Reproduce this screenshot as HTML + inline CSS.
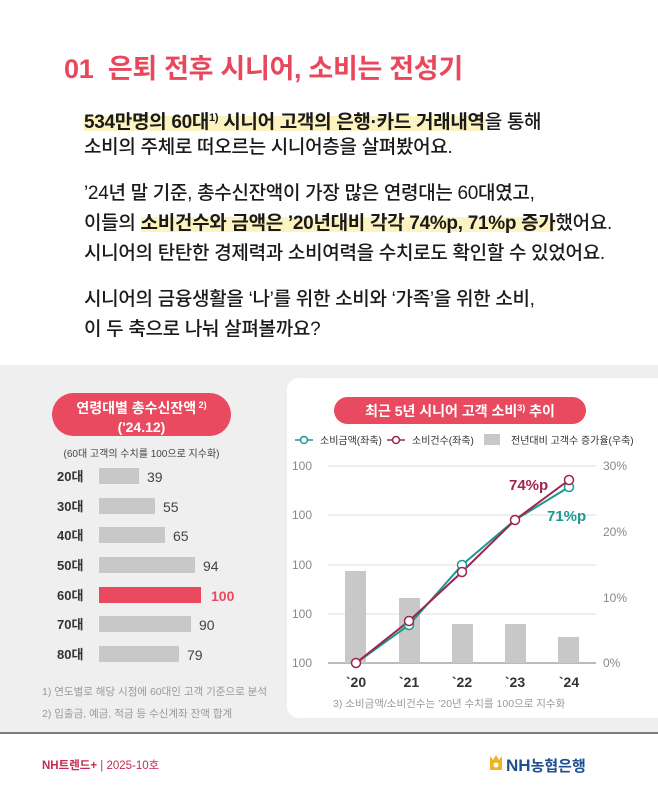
<!DOCTYPE html>
<html><head><meta charset="utf-8"><style>
*{margin:0;padding:0;box-sizing:border-box}
body{width:658px;height:790px;position:relative;background:#fff;font-family:"Liberation Sans","Noto Sans CJK KR",sans-serif;overflow:hidden;color:#222}
.a{position:absolute;white-space:nowrap}
.t{left:64px;top:47px;font-size:27px;font-weight:bold;color:#e8475c;letter-spacing:-0.3px}
.p{left:84px;font-size:19px;font-weight:500;color:#1a1a1a;letter-spacing:-0.3px;line-height:24px}
.hl{background:linear-gradient(transparent 20%,#fdf3c0 20%,#fdf3c0 90%,transparent 90%);font-weight:bold}
sup{font-size:11px;vertical-align:7px}
</style></head><body>
<div class="a t">01&nbsp; 은퇴 전후 시니어, 소비는 전성기</div>
<div class="a p" style="top:106px"><span class="hl">534만명의 60대<sup>1)</sup> 시니어 고객의 은행·카드 거래내역</span>을 통해</div>
<div class="a p" style="top:136px">소비의 주체로 떠오르는 시니어층을 살펴봤어요.</div>
<div class="a p" style="top:182px">’24년 말 기준, 총수신잔액이 가장 많은 연령대는 60대였고,</div>
<div class="a p" style="top:212px">이들의 <span class="hl">소비건수와 금액은 ’20년대비 각각 74%p, 71%p 증가</span>했어요.</div>
<div class="a p" style="top:242px">시니어의 탄탄한 경제력과 소비여력을 수치로도 확인할 수 있었어요.</div>
<div class="a p" style="top:288px">시니어의 금융생활을 ‘나’를 위한 소비와 ‘가족’을 위한 소비,</div>
<div class="a p" style="top:318px">이 두 축으로 나눠 살펴볼까요?</div>

<div class="a" style="left:0;top:365px;width:658px;height:368px;background:#efefef"></div>
<div class="a" style="left:287px;top:378px;width:390px;height:340px;background:#fff;border-radius:12px"></div>

<div class="a" style="left:52px;top:393px;width:179px;height:43px;background:#ea4a5f;border-radius:22px;color:#fff;font-weight:bold;text-align:center;font-size:14px;line-height:19px;padding-top:3px">연령대별 총수신잔액<sup style="font-size:9px;vertical-align:5px"> 2)</sup><br>('24.12)</div>
<div class="a" style="left:52px;top:445px;width:179px;text-align:center;font-size:10px;color:#444">(60대 고객의 수치를 100으로 지수화)</div>

<svg class="a" style="left:0;top:0" width="658" height="790" font-family="Liberation Sans, Noto Sans CJK KR, sans-serif">
<g font-size="13" font-weight="bold" fill="#333">
<text x="57" y="481">20대</text><text x="57" y="511">30대</text><text x="57" y="540">40대</text><text x="57" y="570">50대</text><text x="57" y="600">60대</text><text x="57" y="629">70대</text><text x="57" y="659">80대</text>
</g>
<g fill="#c8c8c8">
<rect x="99" y="468" width="40" height="16"/><rect x="99" y="498" width="56" height="16"/><rect x="99" y="527" width="66" height="16"/><rect x="99" y="557" width="96" height="16"/><rect x="99" y="616" width="92" height="16"/><rect x="99" y="646" width="80" height="16"/>
</g>
<rect x="99" y="587" width="102" height="16" fill="#ea4a5f"/>
<g font-size="14" fill="#444">
<text x="147" y="482">39</text><text x="163" y="512">55</text><text x="173" y="541">65</text><text x="203" y="571">94</text><text x="199" y="630">90</text><text x="187" y="660">79</text>
</g>
<text x="211" y="601" font-size="14" font-weight="bold" fill="#ea4a5f">100</text>
<g font-size="10.5" fill="#999">
<text x="42" y="695">1) 연도별로 해당 시점에 60대인 고객 기준으로 분석</text>
<text x="42" y="717">2) 입출금, 예금, 적금 등 수신계좌 잔액 합계</text>
</g>

<rect x="334" y="397" width="252" height="27" rx="13.5" fill="#ea4a5f"/>
<text x="460" y="416" text-anchor="middle" font-size="14" font-weight="bold" fill="#fff">최근 5년 시니어 고객 소비<tspan font-size="9" dy="-5">3)</tspan><tspan dy="5"> 추이</tspan></text>
<line x1="295" y1="440" x2="313" y2="440" stroke="#1a9a8e" stroke-width="1.5"/><circle cx="304" cy="440" r="3.5" fill="#fff" stroke="#1a9a8e" stroke-width="1.5"/>
<text x="320" y="444" font-size="10" fill="#333">소비금액(좌축)</text>
<line x1="387" y1="440" x2="405" y2="440" stroke="#a0244f" stroke-width="1.5"/><circle cx="396" cy="440" r="3.5" fill="#fff" stroke="#a0244f" stroke-width="1.5"/>
<text x="412" y="444" font-size="10" fill="#333">소비건수(좌축)</text>
<rect x="484" y="434" width="16" height="11" fill="#c8c8c8"/>
<text x="511" y="444" font-size="10" fill="#333">전년대비 고객수 증가율(우축)</text>
<g stroke="#ddd" stroke-width="1"><line x1="328" y1="466" x2="596" y2="466"/><line x1="328" y1="515" x2="596" y2="515"/><line x1="328" y1="565" x2="596" y2="565"/><line x1="328" y1="614" x2="596" y2="614"/></g>
<line x1="328" y1="663" x2="596" y2="663" stroke="#777" stroke-width="1"/>
<g font-size="12" fill="#888">
<text x="292" y="470">100</text><text x="292" y="519">100</text><text x="292" y="569">100</text><text x="292" y="618">100</text><text x="292" y="667">100</text>
<text x="603" y="470">30%</text><text x="603" y="536">20%</text><text x="603" y="602">10%</text><text x="603" y="667">0%</text>
</g>
<g fill="#c8c8c8">
<rect x="345" y="571" width="21" height="92"/><rect x="399" y="598" width="21" height="65"/><rect x="452" y="624" width="21" height="39"/><rect x="505" y="624" width="21" height="39"/><rect x="558" y="637" width="21" height="26"/>
</g>
<polyline points="356,663 409,625 462,565 515,520 569,487" fill="none" stroke="#1a9a8e" stroke-width="2"/>
<polyline points="356,663 409,621 462,572 515,520 569,480" fill="none" stroke="#a0244f" stroke-width="2"/>
<g fill="#fff" stroke="#1a9a8e" stroke-width="1.5"><circle cx="409" cy="625" r="4.5"/><circle cx="462" cy="565" r="4.5"/><circle cx="569" cy="487" r="4.5"/></g>
<g fill="#fff" stroke="#a0244f" stroke-width="1.5"><circle cx="356" cy="663" r="4.5"/><circle cx="409" cy="621" r="4.5"/><circle cx="462" cy="572" r="4.5"/><circle cx="515" cy="520" r="4.5"/><circle cx="569" cy="480" r="4.5"/></g>
<text x="509" y="490" font-size="15" font-weight="bold" fill="#a0244f">74%p</text>
<text x="547" y="521" font-size="15" font-weight="bold" fill="#1a9a8e">71%p</text>
<g font-size="14" font-weight="bold" fill="#333" text-anchor="middle">
<text x="356" y="687">`20</text><text x="409" y="687">`21</text><text x="462" y="687">`22</text><text x="515" y="687">`23</text><text x="569" y="687">`24</text>
</g>
<text x="333" y="707" font-size="10.5" fill="#999">3) 소비금액/소비건수는 ’20년 수치를 100으로 지수화</text>

<line x1="0" y1="733" x2="658" y2="733" stroke="#555" stroke-width="1.5"/>
<text x="42" y="769" font-size="11.5" font-weight="bold" fill="#c8294f">NH트렌드+<tspan fill="#c8294f" font-weight="normal"> | 2025-10호</tspan></text>
<path d="M490 756 l3 4 l3-5 l3 5 l3-4 v14 h-12z" fill="#f0b323"/>
<circle cx="496" cy="765" r="2.5" fill="#fff"/>
<text x="506" y="771" font-size="17" font-weight="bold" fill="#1d4f91">NH<tspan font-size="15">농협은행</tspan></text>
</svg>
</body></html>
